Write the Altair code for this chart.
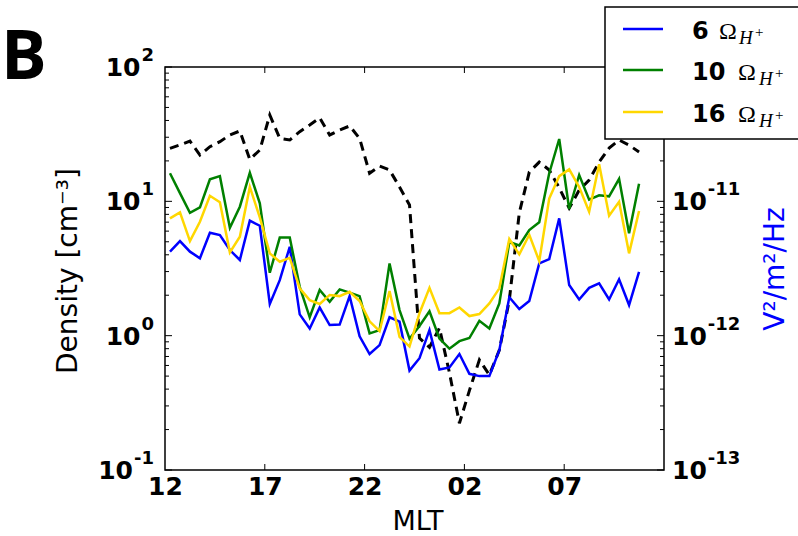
import altair as alt
import pandas as pd

# ---------------- data ----------------
mlt = [12.25, 12.75, 13.25, 13.75, 14.25, 14.75, 15.25, 15.75, 16.25, 16.75,
       17.25, 17.75, 18.25, 18.75, 19.25, 19.75, 20.25, 20.75, 21.25, 21.75,
       22.25, 22.75, 23.25, 23.75, 24.25, 24.75, 25.25, 25.75, 26.25, 26.75,
       27.25, 27.75, 28.25, 28.75, 29.25, 29.75, 30.25, 30.75, 31.25, 31.75,
       32.25, 32.75, 33.25, 33.75, 34.25, 34.75, 35.25, 35.75]

density = [24.8, 26.3, 28.1, 22.1, 25.5, 27.8, 31.2, 33.4, 20.5, 24.1,
           43.9, 29.4, 28.6, 33.0, 37.0, 41.9, 31.2, 33.9, 36.4, 29.4,
           16.2, 18.3, 17.1, 12.8, 9.4, 0.96, 0.82, 1.14, 0.53, 0.223,
           0.39, 0.66, 0.51, 0.78, 1.84, 8.2, 16.5, 19.6, 17.1, 12.6,
           8.9, 12.1, 14.4, 19.6, 24.9, 28.6, 26.2, 23.3]

psd_6 = [4.22e-12, 5.06e-12, 4.22e-12, 3.77e-12, 5.84e-12, 5.61e-12, 4.34e-12, 3.66e-12, 7.18e-12, 6.58e-12,
         1.72e-12, 2.59e-12, 4.59e-12, 1.44e-12, 1.13e-12, 1.62e-12, 1.20e-12, 1.21e-12, 1.97e-12, 0.99e-12,
         0.73e-12, 0.85e-12, 1.37e-12, 1.27e-12, 0.55e-12, 0.68e-12, 1.10e-12, 0.56e-12, 0.58e-12, 0.73e-12,
         0.52e-12, 0.50e-12, 0.50e-12, 0.78e-12, 1.93e-12, 1.58e-12, 1.81e-12, 3.45e-12, 3.72e-12, 7.47e-12,
         2.38e-12, 1.86e-12, 2.27e-12, 2.45e-12, 1.86e-12, 2.63e-12, 1.69e-12, 2.99e-12]

psd_10 = [16.2e-12, 11.5e-12, 8.22e-12, 9.02e-12, 14.6e-12, 15.4e-12, 6.36e-12, 9.12e-12, 16.3e-12, 9.66e-12,
          2.94e-12, 5.37e-12, 5.37e-12, 2.31e-12, 1.37e-12, 2.19e-12, 1.79e-12, 2.21e-12, 2.09e-12, 1.97e-12,
          1.04e-12, 1.10e-12, 3.45e-12, 1.55e-12, 0.95e-12, 1.18e-12, 1.52e-12, 0.95e-12, 0.80e-12, 0.91e-12,
          0.96e-12, 1.29e-12, 1.13e-12, 1.74e-12, 4.98e-12, 4.70e-12, 6.11e-12, 6.99e-12, 16.2e-12, 29.1e-12,
          8.77e-12, 15.7e-12, 10.3e-12, 11.1e-12, 10.9e-12, 14.7e-12, 5.78e-12, 13.5e-12]

psd_16 = [7.47e-12, 8.28e-12, 5.06e-12, 7.05e-12, 11.0e-12, 9.84e-12, 4.17e-12, 5.45e-12, 12.8e-12, 7.6e-12,
          4.10e-12, 3.55e-12, 3.80e-12, 2.25e-12, 1.84e-12, 1.72e-12, 2.01e-12, 1.97e-12, 2.12e-12, 1.81e-12,
          1.28e-12, 1.08e-12, 2.15e-12, 0.98e-12, 0.83e-12, 1.47e-12, 2.27e-12, 1.47e-12, 1.47e-12, 1.62e-12,
          1.40e-12, 1.45e-12, 1.74e-12, 2.25e-12, 5.24e-12, 4.03e-12, 5.64e-12, 3.59e-12, 10.5e-12, 15.4e-12,
          17.3e-12, 12.8e-12, 8.37e-12, 18.9e-12, 7.81e-12, 9.93e-12, 4.10e-12, 8.47e-12]

x_tick_values = [12, 17, 22, 27, 32]
x_tick_labels = ["12", "17", "22", "02", "07"]
left_tick_values = [0.1, 1, 10, 100]
left_tick_exps = ["-1", "0", "1", "2"]
right_tick_values = [1e-13, 1e-12, 1e-11]
right_tick_exps = ["-13", "-12", "-11"]
minor_values = [0.2, 0.3, 0.4, 0.5, 0.6, 0.7, 0.8, 0.9,
                2, 3, 4, 5, 6, 7, 8, 9,
                20, 30, 40, 50, 60, 70, 80, 90]

series_names = ["6", "10", "16"]
series_colors = ["#0000ff", "#008000", "#ffd700"]

# ---------------- layout ----------------
W, H = 499, 403
PAD_L, PAD_T = 165, 67
BASE_FS, EXP_FS = 25, 18
FONT = "DejaVu Sans"

df = pd.DataFrame({"mlt": mlt, "density": density,
                   "p6": psd_6, "p10": psd_10, "p16": psd_16})
one = pd.DataFrame({"a": [0]})


def expr_map(values, labels):
    parts = []
    for v, l in zip(values, labels):
        parts.append(f"abs(datum.value - {v!r}) < {abs(v) * 1e-3!r} ? '{l}' : ")
    return "".join(parts) + "''"


def text_width(s, size):
    # approximate DejaVu Sans Bold advances
    return sum((0.696 if c.isdigit() else 0.415) * size for c in s)


x_scale = alt.Scale(domain=[12, 37], nice=False, zero=False)
y_left_scale = alt.Scale(type="log", domain=[0.1, 100], nice=False)
y_right_scale = alt.Scale(type="log", domain=[1e-13, 1e-10], nice=False)

x_axis = alt.Axis(values=x_tick_values, labelExpr=expr_map(x_tick_values, x_tick_labels),
                  title="MLT", labelPadding=4, labelBaseline="top",
                  titleX=W / 2 + 3, titleY=59, titleBaseline="alphabetic",
                  titleFontSize=27, titleAlign="center", titleAnchor="middle")

left_axis = alt.Axis(values=left_tick_values, labels=False,
                     title="Density [cm\u207b\u00b3]",
                     titleX=68 - PAD_L, titleY=H / 2 + 2, titleAngle=270,
                     titleBaseline="middle", titleAlign="center", titleAnchor="middle")

right_axis = alt.Axis(values=right_tick_values, orient="right", labels=False,
                      title="V\u00b2/m\u00b2/Hz", titleColor="#0000ff",
                      titleX=775 - (PAD_L + W), titleY=H / 2, titleAngle=270,
                      titleBaseline="middle", titleAlign="center", titleAnchor="middle")

# density (left axis)
dashed = alt.Chart(df).mark_line(color="black", strokeWidth=3, strokeDash=[9, 6]).encode(
    x=alt.X("mlt:Q", scale=x_scale, axis=x_axis),
    y=alt.Y("density:Q", scale=y_left_scale, axis=left_axis))

# tick marks pointing inwards (drawn through the scales)
major_df = pd.DataFrame({"v": left_tick_values})
minor_df = pd.DataFrame({"v": minor_values})
xt_df = pd.DataFrame({"t": x_tick_values[1:]})


def ytick(data, x0, x1):
    return alt.Chart(data).mark_rule(color="black", strokeWidth=1).encode(
        y=alt.Y("v:Q", scale=y_left_scale, axis=left_axis),
        x=alt.value(x0), x2=alt.value(x1))


def xtick(y0, y1):
    return alt.Chart(xt_df).mark_rule(color="black", strokeWidth=1).encode(
        x=alt.X("t:Q", scale=x_scale, axis=x_axis),
        y=alt.value(y0), y2=alt.value(y1))


def tick_label(v, s, x, align, size, dy, scale, axis):
    return alt.Chart(pd.DataFrame({"v": [v]})).mark_text(
        text=s, align=align, baseline="alphabetic", font=FONT, fontWeight="bold",
        fontSize=size, dy=dy, color="black").encode(
        y=alt.Y("v:Q", scale=scale, axis=axis), x=alt.value(x - PAD_L))


# left tick labels 10^n with real superscripts
left_labels = []
LEFT_END = 154
for v, e in zip(left_tick_values, left_tick_exps):
    ew = text_width(e, EXP_FS)
    left_labels.append(tick_label(v, "10", LEFT_END - ew - 1, "right", BASE_FS, 9,
                                  y_left_scale, left_axis))
    left_labels.append(tick_label(v, e, LEFT_END, "right", EXP_FS, -6,
                                  y_left_scale, left_axis))

left_group = alt.layer(
    dashed,
    ytick(major_df, 0, 7), ytick(minor_df, 0, 4),
    ytick(major_df, W - 7, W), ytick(minor_df, W - 4, W),
    xtick(H, H - 6), xtick(0, 6),
    *left_labels,
)

# PSD lines (right axis)
psd_layers = []
for col, colr in zip(["p6", "p10", "p16"], series_colors):
    psd_layers.append(
        alt.Chart(df).mark_line(color=colr, strokeWidth=2.5).encode(
            x=alt.X("mlt:Q", scale=x_scale, axis=x_axis),
            y=alt.Y(f"{col}:Q", scale=y_right_scale, axis=right_axis)))

right_labels = []
RIGHT_START = 672
base_w = text_width("10", BASE_FS)
for v, e in zip(right_tick_values, right_tick_exps):
    right_labels.append(tick_label(v, "10", RIGHT_START, "left", BASE_FS, 9,
                                   y_right_scale, right_axis))
    right_labels.append(tick_label(v, e, RIGHT_START + base_w + 1, "left", EXP_FS, -6,
                                   y_right_scale, right_axis))
right_group = alt.layer(*psd_layers, *right_labels)

# frame
frame = alt.Chart(one).mark_rect(fillOpacity=0, stroke="black", strokeWidth=1.5).encode(
    x=alt.value(0), x2=alt.value(W), y=alt.value(0), y2=alt.value(H))


def txt(s, x, y, size, font, weight="normal", style="normal", color="black"):
    return alt.Chart(one).mark_text(text=s, align="left", baseline="alphabetic", font=font,
                                    fontSize=size, fontWeight=weight, fontStyle=style,
                                    color=color).encode(
        x=alt.value(x - PAD_L), y=alt.value(y - PAD_T))


# legend (manual, to draw the Omega_{H+} notation)
legend_layers = [
    alt.Chart(one).mark_rect(fill="white", stroke="black", strokeWidth=1.5).encode(
        x=alt.value(605 - PAD_L), x2=alt.value(820 - PAD_L),
        y=alt.value(7 - PAD_T), y2=alt.value(139 - PAD_T))
]
line_ys = [29, 70, 112]
omega_x = [719, 738, 738]
h_x = [739, 759, 759]
plus_x = [755, 775, 775]
for name, colr, ly, ox, hx, px in zip(series_names, series_colors, line_ys, omega_x, h_x, plus_x):
    legend_layers.append(
        alt.Chart(one).mark_rule(color=colr, strokeWidth=2.5).encode(
            x=alt.value(623 - PAD_L), x2=alt.value(663 - PAD_L),
            y=alt.value(ly - PAD_T)))
    legend_layers.append(txt(name, 692, ly + 9.5, 24, FONT, weight="bold"))
    legend_layers.append(txt("\u03a9", ox, ly + 9.5, 24, "Liberation Serif"))
    legend_layers.append(txt("H", hx, ly + 15, 19, "Liberation Serif", style="italic"))
    legend_layers.append(txt("+", px, ly + 8, 15, "Liberation Serif"))

panel = txt("B", 1, 79, 68, "Open Sans", weight="bold")

chart = alt.layer(left_group, right_group, frame, *legend_layers, panel).resolve_scale(
    y="independent"
).properties(
    width=W, height=H, background="white",
    autosize=alt.AutoSizeParams(type="none"),
    padding={"left": PAD_L, "top": PAD_T, "right": 798 - PAD_L - W, "bottom": 536 - PAD_T - H},
).configure_view(stroke=None).configure_axis(
    domain=False, ticks=False, tickSize=0, grid=False,
    labelFont=FONT, labelFontWeight="bold", labelFontSize=BASE_FS, labelColor="black",
    labelOverlap=False, labelFlush=False,
    titleFont=FONT, titleFontWeight="normal", titleFontSize=28, titleColor="black",
)

chart.save("out.html", embed_options={"renderer": "svg", "actions": False})
